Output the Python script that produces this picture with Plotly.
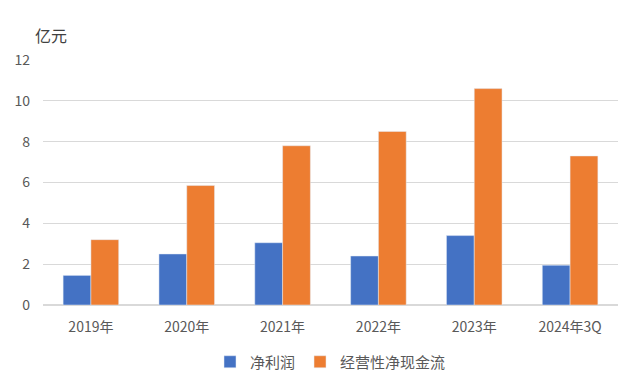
import plotly.graph_objects as go

categories = ["2019年", "2020年", "2021年", "2022年", "2023年", "2024年3Q"]
net_profit = [1.45, 2.5, 3.05, 2.4, 3.4, 1.95]
op_cash_flow = [3.2, 5.85, 7.8, 8.5, 10.6, 7.3]
y_ticks = [0, 2, 4, 6, 8, 10, 12]

font_family = "Noto Sans CJK SC, Noto Sans, sans-serif"
grey = "#595959"

fig = go.Figure()
fig.add_trace(go.Bar(x=categories, y=net_profit, name="净利润", marker_color="#4472C4"))
fig.add_trace(go.Bar(x=categories, y=op_cash_flow, name="经营性净现金流", marker_color="#ED7D31"))

# page body adds an 8px margin; figure is sized to fill the rest of the window
fig.update_layout(
    width=632, height=377,
    margin=dict(l=35, r=22, t=52, b=80, autoexpand=False),
    paper_bgcolor="white", plot_bgcolor="white",
    barmode="group", bargap=0.42, bargroupgap=0,
    font=dict(family=font_family, color=grey, size=14),
    legend=dict(orientation="h", x=0.5, xanchor="center", yref="container", y=0.061, yanchor="middle",
                font=dict(size=15, color=grey), itemwidth=30, traceorder="normal"),
    showlegend=True,
)
fig.update_yaxes(range=[0, 12], tickvals=y_ticks, showgrid=True, gridcolor="#D9D9D9",
                 zeroline=True, zerolinecolor="#D9D9D9", ticks="", showline=False,
                 ticklabelstandoff=12, tickfont=dict(size=14, color=grey))
fig.update_xaxes(showgrid=False, ticks="", showline=False, ticklabelstandoff=12,
                 tickfont=dict(size=14, color=grey))
fig.add_annotation(text="亿元", xref="paper", yref="paper", x=-0.017, y=1.102,
                   xanchor="left", yanchor="middle", showarrow=False,
                   font=dict(size=16, color="#404040", family=font_family))

fig.write_html("out.html")
